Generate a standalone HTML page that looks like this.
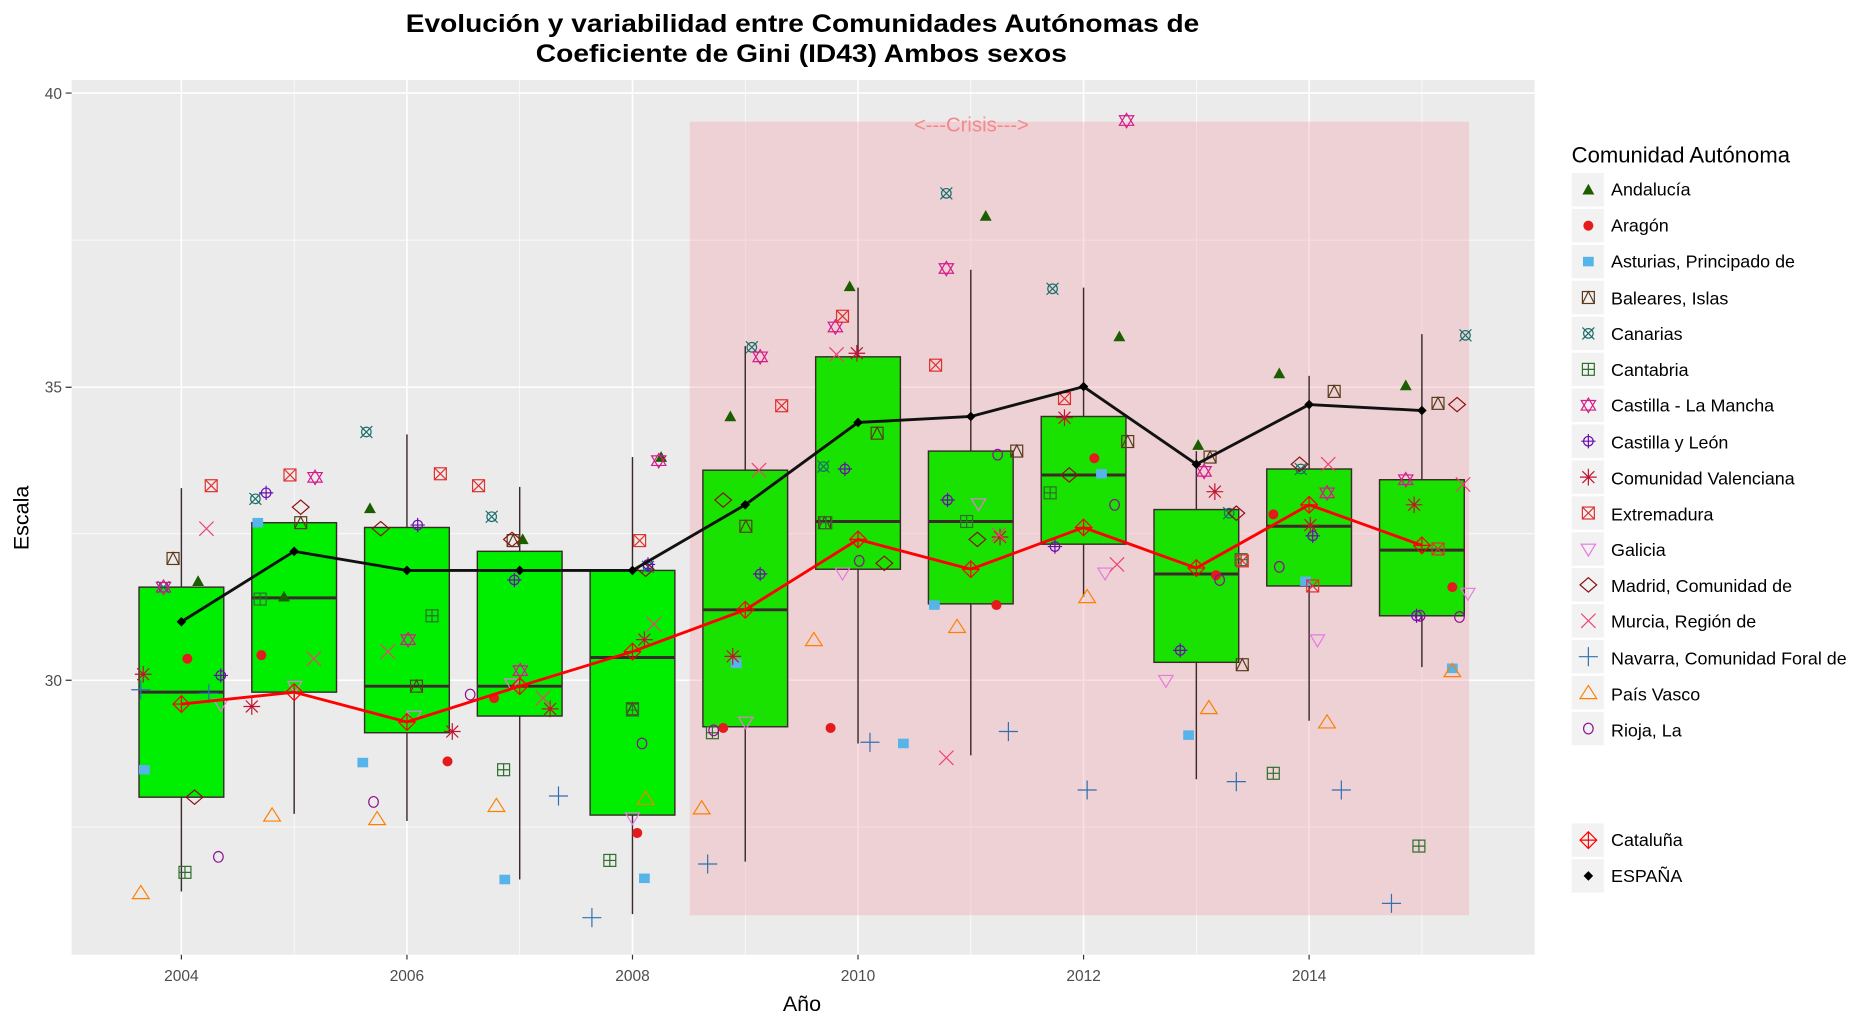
<!DOCTYPE html>
<html><head><meta charset="utf-8"><style>
html,body{margin:0;padding:0;background:#fff;}
svg{display:block;font-family:"Liberation Sans",Arial,sans-serif;}
</style></head><body>
<svg id="s" width="1870" height="1022" viewBox="0 0 1567 856.4" xmlns="http://www.w3.org/2000/svg">
<defs>
<g id="m0"><polygon points="0,-5 5,4 -5,4" fill="#1a5e00"/></g>
<g id="m1"><circle r="4.2" fill="#e41a1c"/></g>
<g id="m2"><rect x="-4.5" y="-4" width="9" height="8" fill="#56b4e9"/></g>
<g id="m3" fill="none" stroke="#5a3a1a" stroke-width="1"><rect x="-5" y="-5" width="10" height="10"/><polyline points="-5,5 0,-5 5,5"/></g>
<g id="m4" fill="none" stroke="#1a6e6a" stroke-width="1"><circle r="4"/><path d="M-5,-5L5,5M-5,5L5,-5"/></g>
<g id="m5" fill="none" stroke="#2e6e2e" stroke-width="1"><rect x="-5" y="-5" width="10" height="10"/><path d="M0,-5V5M-5,0H5"/></g>
<g id="m6" fill="none" stroke="#d61b8a" stroke-width="1"><polygon points="0,-6 6,4 -6,4"/><polygon points="0,6 6,-4 -6,-4"/></g>
<g id="m7" fill="none" stroke="#6a0dad" stroke-width="1"><circle r="4"/><path d="M0,-6V6M-6,0H6"/></g>
<g id="m8" fill="none" stroke="#c41230" stroke-width="1"><path d="M0,-7V7M-7,0H7M-5,-5L5,5M-5,5L5,-5"/></g>
<g id="m9" fill="none" stroke="#e03030" stroke-width="1"><rect x="-5" y="-5" width="10" height="10"/><path d="M-5,-5L5,5M-5,5L5,-5"/></g>
<g id="m10" fill="none" stroke="#e878e0" stroke-width="1"><polygon points="-6,-4 6,-4 0,6"/></g>
<g id="m11" fill="none" stroke="#8b1010" stroke-width="1"><polygon points="0,-6 7,0 0,6 -7,0"/></g>
<g id="m12" fill="none" stroke="#f04070" stroke-width="1"><path d="M-6,-6L6,6M-6,6L6,-6"/></g>
<g id="m13" fill="none" stroke="#3070b0" stroke-width="1"><path d="M0,-8V8M-8,0H8"/></g>
<g id="m14" fill="none" stroke="#ff7f00" stroke-width="1"><polygon points="0,-6 7,5 -7,5"/></g>
<g id="m15" fill="none" stroke="#8b1090" stroke-width="1"><ellipse rx="4" ry="4.5"/></g>
<g id="mc" fill="none" stroke="#ff0000" stroke-width="1"><polygon points="0,-7 7,0 0,7 -7,0"/><path d="M0,-7V7M-7,0H7"/></g>
<g id="me"><polygon points="0,-4 4,0 0,4 -4,0" fill="#000"/></g>
</defs>
<text x="340" y="27" font-size="21" font-weight="bold" textLength="665" lengthAdjust="spacingAndGlyphs">Evolución y variabilidad entre Comunidades Autónomas de</text>
<text x="449" y="52" font-size="21" font-weight="bold" textLength="445" lengthAdjust="spacingAndGlyphs">Coeficiente de Gini (ID43) Ambos sexos</text>
<rect x="60" y="67" width="1226" height="733" fill="#ebebeb"/>
<g id="grid"></g>
<rect x="578" y="102" width="653" height="665" fill="#f0a0a8" opacity="0.35"/>
<text x="814" y="110" text-anchor="middle" font-size="17" fill="#f4888c">&lt;---Crisis---&gt;</text>
<g id="boxes"></g>
<g id="pts"></g>
<g id="lines"></g>
<g font-size="13" fill="#4d4d4d">
<text x="52" y="83" text-anchor="end">40</text>
<text x="52" y="329" text-anchor="end">35</text>
<text x="52" y="575" text-anchor="end">30</text>
<text x="152" y="822" text-anchor="middle">2004</text>
<text x="341" y="822" text-anchor="middle">2006</text>
<text x="530" y="822" text-anchor="middle">2008</text>
<text x="719" y="822" text-anchor="middle">2010</text>
<text x="908" y="822" text-anchor="middle">2012</text>
<text x="1097" y="822" text-anchor="middle">2014</text>
</g>
<g stroke="#333" stroke-width="1"><path d="M55,78H60M55,324.5H60M55,570H60M152,800V804M341,800V804M530,800V804M719,800V804M908,800V804M1097,800V804"/></g>
<text x="672" y="847" text-anchor="middle" font-size="18">Año</text>
<text transform="translate(24,434) rotate(-90)" text-anchor="middle" font-size="18">Escala</text>
<text x="1317" y="136" font-size="18.5">Comunidad Autónoma</text>
<g id="leg"></g>
<g font-size="15">
<text x="1350" y="164">Andalucía</text>
<text x="1350" y="194">Aragón</text>
<text x="1350" y="224">Asturias, Principado de</text>
<text x="1350" y="255">Baleares, Islas</text>
<text x="1350" y="285">Canarias</text>
<text x="1350" y="315">Cantabria</text>
<text x="1350" y="345">Castilla - La Mancha</text>
<text x="1350" y="376">Castilla y León</text>
<text x="1350" y="406">Comunidad Valenciana</text>
<text x="1350" y="436">Extremadura</text>
<text x="1350" y="466">Galicia</text>
<text x="1350" y="496">Madrid, Comunidad de</text>
<text x="1350" y="526">Murcia, Región de</text>
<text x="1350" y="557">Navarra, Comunidad Foral de</text>
<text x="1350" y="587">País Vasco</text>
<text x="1350" y="617">Rioja, La</text>
<text x="1350" y="709">Cataluña</text>
<text x="1350" y="739">ESPAÑA</text>
</g>
<script>
var NS="http://www.w3.org/2000/svg";
function el(p,t,a){var e=document.createElementNS(NS,t);for(var k in a)e.setAttribute(k,a[k]);document.getElementById(p).appendChild(e);return e;}
[201.25,447.25,693].forEach(function(y){el('grid','line',{x1:60,x2:1286,y1:y,y2:y,stroke:'#fff','stroke-width':0.6});});
[78,324.5,570].forEach(function(y){el('grid','line',{x1:60,x2:1286,y1:y,y2:y,stroke:'#fff','stroke-width':1.3});});
var DX=94.5;
for(var i=0;i<12;i++){var x=152+i*DX;el('grid','line',{x1:x,x2:x,y1:67,y2:800,stroke:'#fff','stroke-width':i%2?0.6:1.3});}
var B=[[668,492,580,409,747],[580,438,501,438,682],[614,442,575,364,688],[600,462,575,408,737],[683,478,551,383,766],[609,394,511,290,722],[477,299,437,241,623],[506,378,437,226,633],[456,349,398,241,500],[555,427,481,378,653],[491,393,441,315,604],[516,402,461,280,559]];
B.forEach(function(b,i){var x=152+i*DX;
el('boxes','line',{x1:x,x2:x,y1:b[3],y2:b[4],stroke:'#3a2a2a','stroke-width':1.2});
el('boxes','rect',{x:x-35.5,y:b[1],width:71,height:b[0]-b[1],fill:i<5?'#00ee00':'#19e100',stroke:'#3a2a2a','stroke-width':1.2});
el('boxes','line',{x1:x-35.5,x2:x+35.5,y1:b[2],y2:b[2],stroke:'#3a2a2a','stroke-width':2.5});});
var P=[
[[166,487],[238,500],[310,426],[438,452],[554,383],[612,349],[712,240],[826,181],[938,282],[1004,373],[1072,313],[1178,323]],
[[157,552],[219,549],[375,638],[414,585],[534,698],[606,610],[696,610],[835,507],[917,384],[1019,482],[1067,431],[1217,492]],
[[121,645],[216,438],[304,639],[423,737],[540,736],[617,556],[757,623],[783,507],[923,397],[996,616],[1094,487],[1217,560]],
[[145,468],[252,438],[349,575],[430,453],[530,594],[625,441],[691,438],[735,363],[852,378],[945,370],[1014,383],[1041,557],[1118,328],[1205,338]],
[[137,492],[214,418],[307,362],[412,433],[543,475],[630,291],[690,391],[793,162],[882,242],[1030,430],[1090,393],[1228,281]],
[[155,731],[218,502],[362,516],[422,645],[511,721],[530,595],[597,614],[692,438],[810,437],[880,413],[1040,469],[1067,648],[1189,709]],
[[137,492],[264,400],[342,536],[436,562],[552,386],[637,299],[700,274],[793,225],[944,101],[1009,395],[1112,413],[1178,402]],
[[185,566],[223,413],[350,440],[431,486],[543,473],[637,481],[708,393],[794,419],[884,458],[989,545],[1100,449],[1187,516]],
[[120,565],[211,592],[379,613],[461,594],[540,536],[614,550],[718,296],[838,450],[892,350],[1018,412],[1098,440],[1185,423]],
[[177,407],[243,398],[369,397],[401,407],[536,453],[655,340],[706,265],[784,306],[892,334],[1041,470],[1100,491],[1205,460]],
[[185,590],[247,575],[347,600],[429,573],[530,685],[625,605],[706,480],[820,422],[926,480],[977,570],[1104,536],[1230,497]],
[[163,668],[252,425],[319,443],[429,452],[541,477],[606,419],[741,472],[819,452],[896,398],[1036,430],[1089,389],[1221,339]],
[[173,443],[263,552],[325,546],[455,585],[548,523],[636,394],[701,297],[793,635],[837,448],[936,473],[1113,389],[1226,406]],
[[118,578],[175,581],[468,667],[496,769],[593,724],[729,622],[845,613],[911,662],[1036,655],[1124,662],[1166,757]],
[[118,748],[228,683],[316,686],[416,675],[541,669],[588,677],[682,536],[802,525],[911,500],[1013,593],[1112,605],[1217,562]],
[[183,718],[313,672],[394,582],[538,623],[598,612],[720,470],[836,381],[934,423],[1022,486],[1072,475],[1190,516],[1223,517]]];
P.forEach(function(s,k){s.forEach(function(p){el('pts','use',{href:'#m'+k,x:p[0],y:p[1]});});});
var E=[521,462,478,478,478,423,354,349,324,389,339,344];
var C=[590,580,605,575,546,511,452,477,442,476,423,457];
function pts(a){return a.map(function(y,i){return [152+i*DX,y];});}
E=pts(E);C=pts(C);
el('lines','polyline',{points:C.join(' '),fill:'none',stroke:'#ff0000','stroke-width':2.4});
C.forEach(function(p){el('lines','use',{href:'#mc',x:p[0],y:p[1]});});
el('lines','polyline',{points:E.join(' '),fill:'none',stroke:'#111','stroke-width':2.4});
E.forEach(function(p){el('lines','use',{href:'#me',x:p[0],y:p[1]});});
for(var i=0;i<16;i++){var y=159+i*30.1;el('leg','rect',{x:1317,y:y-14,width:27,height:28,fill:'#f2f2f2'});el('leg','use',{href:'#m'+i,x:1331,y:y});}
el('leg','rect',{x:1317,y:690,width:27,height:28,fill:'#f2f2f2'});el('leg','use',{href:'#mc',x:1331,y:704});
el('leg','rect',{x:1317,y:720,width:27,height:28,fill:'#f2f2f2'});el('leg','use',{href:'#me',x:1331,y:734});
</script>
</svg>
</body></html>
